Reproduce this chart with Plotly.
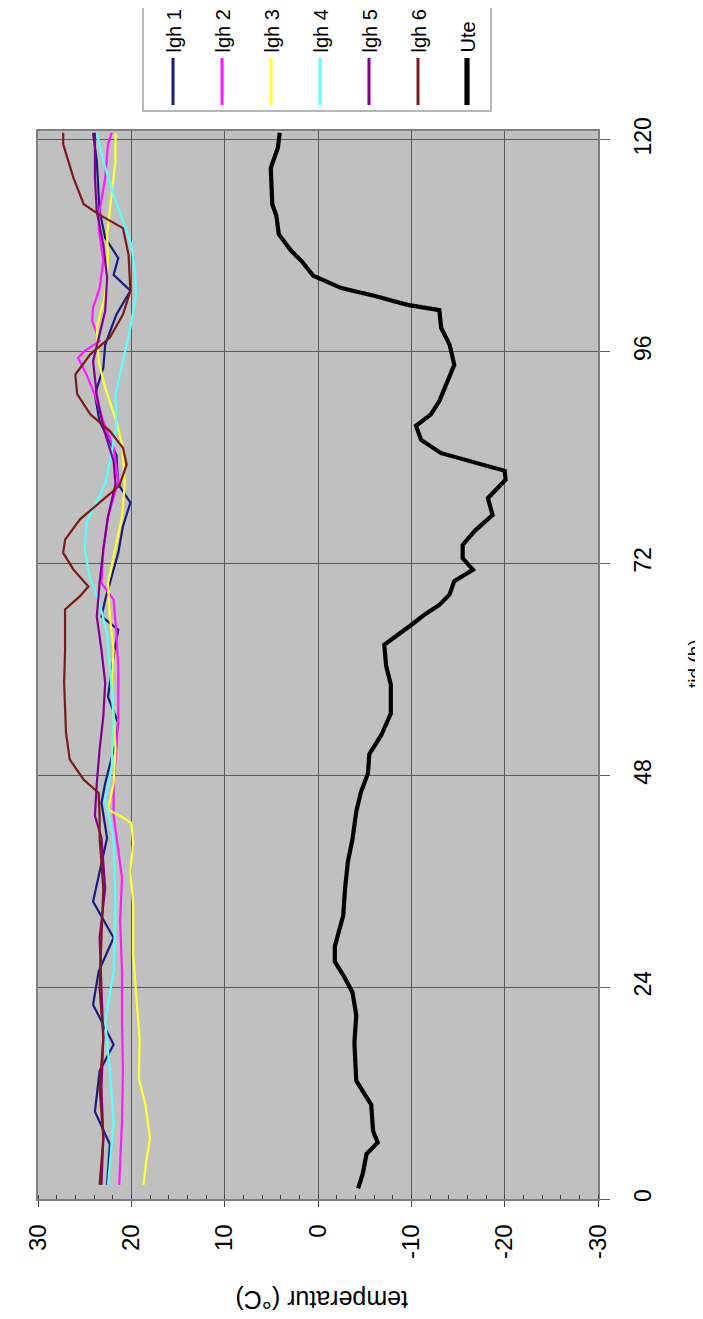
import plotly.graph_objects as go

# ---------------- data ----------------
series_names = ["lgh 1", "lgh 2", "lgh 3", "lgh 4", "lgh 5", "lgh 6", "Ute"]
series_colors = ["#1c1c80", "#ff1aff", "#ffff33", "#5cffff", "#800090", "#7a1a1a", "#000000"]
series_widths = [2.2, 2.2, 2.2, 2.2, 2.2, 2.2, 4.2]

t_lgh1 = [1.6, 6.2, 9.9, 14.5, 17.5, 22.0, 25.8, 29.6, 33.7, 40.9, 44.9, 47.1, 51.7, 53.9, 56.9,
          61.5, 64.5, 66.0, 67.9, 73.2, 76.2, 78.9, 81.0, 84.3, 88.1, 91.1, 94.2, 96.8, 100.2,
          102.9, 104.7, 106.6, 108.9, 111.9, 117.6, 120.8]
T_lgh1 = [22.6, 22.3, 23.9, 23.4, 21.9, 24.1, 23.5, 21.9, 24.1, 22.6, 23.2, 22.8, 21.7, 21.4, 22.5,
          21.9, 21.4, 23.2, 22.8, 21.4, 20.9, 20.1, 21.4, 21.6, 23.4, 23.9, 23.0, 22.8, 21.6,
          20.1, 21.9, 21.4, 22.8, 23.4, 23.7, 24.1]

t_lgh2 = [1.6, 8.8, 14.5, 20.1, 25.8, 31.5, 36.4, 40.9, 43.4, 47.1, 50.9, 54.7, 60.3, 64.1, 67.9,
          69.8, 73.6, 77.3, 81.3, 85.1, 88.1, 91.1, 93.4, 95.3, 96.0, 97.2, 99.5, 101.0, 103.2,
          106.3, 110.0, 111.9, 115.7, 119.5, 120.8]
T_lgh2 = [21.3, 21.0, 20.9, 21.0, 21.0, 21.2, 21.0, 21.6, 21.9, 21.9, 21.6, 21.4, 21.4, 21.6, 21.9,
          23.2, 23.0, 22.5, 21.4, 21.9, 23.0, 23.9, 24.8, 25.7, 25.1, 23.4, 24.2, 24.1, 23.4,
          23.0, 23.5, 23.4, 22.8, 22.5, 22.1]

t_lgh3 = [1.6, 4.3, 6.9, 10.7, 13.7, 18.2, 22.0, 27.7, 33.4, 37.1, 40.3, 42.6, 43.4, 44.1, 47.1,
          50.9, 54.7, 58.5, 62.2, 66.0, 69.8, 73.6, 77.3, 81.1, 85.5, 88.1, 91.9, 94.9, 98.7,
          102.5, 106.3, 109.3, 111.9, 117.6, 120.8]
T_lgh3 = [18.7, 18.4, 18.0, 18.5, 19.2, 19.1, 19.4, 19.8, 19.8, 20.1, 19.8, 20.0, 21.2, 22.5, 21.9,
          21.7, 21.9, 22.1, 21.9, 22.3, 22.5, 21.7, 21.0, 20.7, 21.0, 21.6, 22.8, 23.5, 23.7,
          22.8, 22.5, 22.6, 22.3, 21.7, 21.7]

t_lgh4 = [1.6, 8.8, 14.5, 20.1, 25.8, 33.4, 40.9, 45.2, 49.0, 54.7, 60.3, 64.1, 67.9, 70.2, 73.6,
          76.6, 81.0, 83.6, 87.4, 91.1, 94.9, 98.7, 102.5, 105.0, 108.1, 110.8, 113.8, 117.6, 120.8]
T_lgh4 = [22.5, 21.9, 22.3, 22.8, 21.9, 21.7, 21.9, 22.8, 22.1, 21.9, 22.3, 22.6, 23.5, 24.4, 25.0,
          24.8, 22.8, 22.3, 21.6, 21.7, 20.9, 20.1, 19.5, 19.6, 20.0, 20.9, 21.9, 23.0, 23.7]

t_lgh5 = [1.6, 6.9, 12.6, 18.3, 23.9, 29.6, 35.2, 40.9, 43.4, 47.1, 50.9, 54.7, 58.5, 62.2, 66.0,
          69.8, 73.6, 77.3, 81.0, 83.6, 87.4, 91.1, 94.9, 98.0, 100.6, 104.4, 108.1, 111.9, 115.7, 120.8]
T_lgh5 = [23.2, 23.0, 23.2, 23.0, 23.2, 23.4, 22.8, 23.2, 23.9, 23.7, 23.4, 23.0, 22.8, 23.2, 23.7,
          23.4, 23.0, 22.5, 21.7, 21.9, 23.0, 23.7, 24.1, 23.4, 22.8, 22.6, 23.0, 23.7, 23.9, 23.9]

t_lgh6 = [1.6, 6.9, 12.6, 18.3, 23.9, 29.6, 35.2, 40.9, 43.4, 46.0, 47.5, 49.8, 52.8, 58.5, 62.2,
          66.8, 68.3, 69.4, 71.3, 73.2, 74.7, 77.0, 78.9, 80.8, 83.2, 85.1, 87.0, 88.9, 91.2,
          93.4, 95.7, 97.6, 100.2, 102.9, 107.0, 110.0, 111.5, 112.7, 115.7, 118.3, 119.5, 120.8]
T_lgh6 = [23.4, 23.0, 23.4, 23.0, 23.4, 23.2, 23.0, 23.4, 23.4, 23.5, 25.1, 26.6, 27.0, 27.2, 27.1,
          27.1, 25.5, 24.6, 26.2, 27.3, 27.1, 25.5, 23.4, 21.3, 20.5, 20.9, 22.3, 24.4, 25.8,
          26.0, 24.4, 22.3, 20.9, 20.1, 20.3, 20.9, 23.4, 25.1, 26.2, 26.9, 27.3, 27.3]

t_ute = [1.2, 2.9, 5.1, 6.4, 7.7, 10.7, 13.4, 17.7, 20.8, 23.4, 25.1, 26.9, 28.6, 32.1, 35.2,
         38.2, 40.8, 43.9, 46.1, 48.2, 50.4, 52.6, 55.0, 58.3, 60.4, 62.8, 65.2, 66.2, 67.3,
         68.5, 70.0, 71.3, 72.6, 74.1, 75.7, 77.5, 79.4, 81.5, 82.5, 83.4, 84.5, 86.0, 87.6,
         88.9, 90.4, 92.7, 94.5, 96.8, 98.7, 100.7, 101.3, 102.3, 103.2, 104.6, 106.3, 107.4,
         109.3, 111.4, 112.7, 116.8, 119.1, 120.8]
T_ute = [-4.3, -4.8, -5.2, -6.4, -5.9, -5.7, -4.1, -3.9, -4.1, -3.7, -2.85, -1.8, -1.8, -2.7, -2.9,
         -3.2, -3.7, -4.1, -4.6, -5.35, -5.5, -6.8, -7.8, -7.8, -7.3, -7.1, -10.2, -11.4, -13.0,
         -14.1, -14.6, -16.6, -15.5, -15.5, -16.8, -18.7, -18.2, -20.1, -20.0, -16.8, -13.2, -11.05, -10.5,
         -12.1, -13.0, -13.9, -14.6, -14.1, -13.2, -13.0, -9.6, -6.1, -2.5, 0.5, 1.8, 2.85,
         4.2, 4.46, 4.9, 5.06, 4.3, 4.1]

series_t = [t_lgh1, t_lgh2, t_lgh3, t_lgh4, t_lgh5, t_lgh6, t_ute]
series_T = [T_lgh1, T_lgh2, T_lgh3, T_lgh4, T_lgh5, T_lgh6, T_ute]

temp_ticks = [30, 20, 10, 0, -10, -20, -30]
temp_ticktext = ["30", "20", "10", "0", "-10", "-20", "-30"]
time_ticks = [0, 24, 48, 72, 96, 120]
time_ticktext = ["0", "24", "48", "72", "96", "120"]

x_title = "temperatur (°C)"
y_title = "tid (h)"

# ---------------- layout geometry (pixels) ----------------
W, H = 703, 1319
L, R, T, B = 30, 113, 123, 128
PW, PH = W - L - R, H - T - B
FONT = "Liberation Sans, Arial, sans-serif"


def px(xp):
    return (xp - L) / PW


def py(yp):
    return (H - B - yp) / PH


fig = go.Figure()
for name, col, wd, tt, TT in zip(series_names, series_colors, series_widths, series_t, series_T):
    fig.add_trace(go.Scatter(x=TT, y=tt, mode="lines", name=name,
                             line=dict(color=col, width=wd), showlegend=False))

fig.update_layout(
    width=W, height=H,
    margin=dict(l=L, r=R, t=T, b=B, pad=0),
    paper_bgcolor="white",
    plot_bgcolor="#c0c0c0",
    font=dict(family=FONT, size=23, color="black"),
    xaxis=dict(
        range=[30, -30], tickvals=temp_ticks, ticktext=temp_ticktext,
        tickangle=-90, ticks="outside", ticklen=6, tickcolor="#404040",
        ticklabelstandoff=8,
        showgrid=True, gridcolor="#5a5a5a", gridwidth=1, zeroline=False,
        showline=True, linecolor="#808080", linewidth=1.5, mirror=True,
        minor=dict(dtick=2, ticks="inside", ticklen=4, tickcolor="#404040", showgrid=False),
        tickfont=dict(size=24),
    ),
    yaxis=dict(
        range=[0, 121], side="right", tickvals=time_ticks, ticktext=time_ticktext,
        tickangle=-90, ticks="outside", ticklen=10, tickcolor="#606060",
        ticklabelstandoff=14,
        showgrid=True, gridcolor="#5a5a5a", gridwidth=1, zeroline=False,
        showline=True, linecolor="#808080", linewidth=1.5, mirror=True,
        tickfont=dict(size=23),
    ),
)

annotations = [
    dict(text=x_title, xref="paper", yref="paper", x=px(314), y=py(1292),
         xanchor="center", yanchor="middle", textangle=180, showarrow=False,
         font=dict(size=25, family=FONT)),
    dict(text=y_title, xref="paper", yref="paper", x=px(686), y=py(656),
         xanchor="center", yanchor="middle", textangle=-90, showarrow=False,
         font=dict(size=19, family=FONT)),
]

shapes = [
    dict(type="rect", xref="paper", yref="paper", x0=px(135), x1=px(483),
         y0=py(103), y1=py(-10), line=dict(color="#a0a0a0", width=1.5), fillcolor="white",
         layer="below"),
]

leg_x0, leg_dx = 165, 49
for i, (name, col, wd) in enumerate(zip(series_names, series_colors, series_widths)):
    xc = leg_x0 + i * leg_dx
    shapes.append(dict(type="line", xref="paper", yref="paper", x0=px(xc), x1=px(xc),
                       y0=py(97), y1=py(50), line=dict(color=col, width=wd + 1 if i == 6 else 3)))
    annotations.append(dict(text=name, xref="paper", yref="paper", x=px(xc), y=py(47),
                            xanchor="center", yanchor="bottom", textangle=-90, showarrow=False,
                            font=dict(size=20, family=FONT)))

fig.update_layout(annotations=annotations, shapes=shapes)
fig.write_html("out.html")
